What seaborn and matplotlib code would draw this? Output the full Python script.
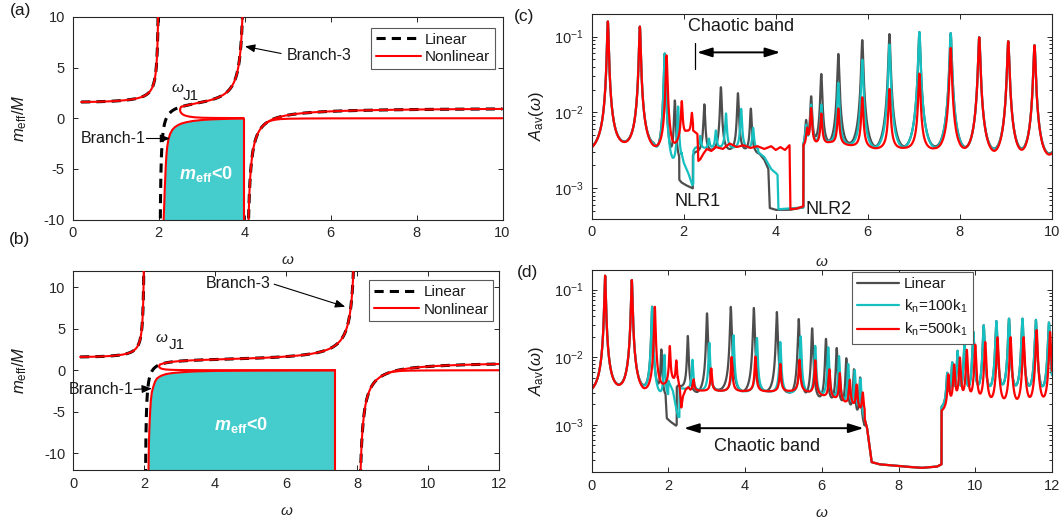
import numpy as np
import pandas as pd
import matplotlib
matplotlib.use("Agg")
import matplotlib.pyplot as plt
from matplotlib.lines import Line2D
from matplotlib.ticker import LogLocator, NullFormatter, MultipleLocator
import seaborn as sns

# ------------------------------------------------------------------
# Effective mass of the mass-in-mass lattice, panels (a) and (b)
# ------------------------------------------------------------------
res_freq_a = [2.02, 4.03]          # internal resonances
mass_ratio_a = [0.25, 0.35]        # m_i / M
res_freq_b = [2.02, 8.00]
mass_ratio_b = [0.30, 0.30]

jump_a, jump_b = 2.53, 2.45        # omega_J1 (start of Branch-3)
edge_a, edge_b = 3.98, 7.37        # right edge of the m_eff<0 band

# nonlinear Branch-1 (negative effective mass)
br1_w_a = [2.120, 2.135, 2.145, 2.156, 2.170, 2.185, 2.200, 2.230, 2.270, 2.320,
           2.380, 2.460, 2.550, 2.650, 2.800, 3.040, 3.300, 3.600, 3.980]
br1_m_a = [-10.0, -8.3, -7.0, -6.0, -4.6, -3.6, -2.9, -2.1, -1.55, -1.15,
           -0.88, -0.66, -0.50, -0.39, -0.27, -0.16, -0.10, -0.06, -0.03]
br1_w_b = [2.125, 2.135, 2.150, 2.170, 2.190, 2.220, 2.270, 2.310, 2.360, 2.430,
           2.500, 2.620, 2.790, 3.050, 3.450, 4.000, 5.000, 6.200, 7.370]
br1_m_b = [-12.0, -9.0, -6.9, -5.0, -3.66, -2.6, -1.84, -1.35, -1.0, -0.78,
           -0.63, -0.46, -0.34, -0.24, -0.14, -0.08, -0.04, -0.02, -0.01]

# fold of the nonlinear curve at omega_J1
fold_w_a = [2.530, 2.512, 2.503, 2.502, 2.510, 2.530, 2.570, 2.630, 2.720, 2.850,
            3.020, 3.300, 3.700, 3.980]
fold_m_a = [1.14, 1.02, 0.90, 0.78, 0.64, 0.50, 0.36, 0.25, 0.16, 0.09,
            0.05, 0.03, 0.02, 0.02]
fold_w_b = [2.450, 2.432, 2.424, 2.425, 2.435, 2.460, 2.500, 2.560, 2.650, 2.780,
            2.950, 3.200, 3.600, 4.500, 7.370]
fold_m_b = [0.69, 0.62, 0.52, 0.42, 0.33, 0.25, 0.18, 0.12, 0.08, 0.05,
            0.03, 0.02, 0.01, 0.005, 0.0]

# nonlinear branch above the second resonance that settles at zero
tail_w_a = [4.45, 4.50, 4.56, 4.63, 4.72, 4.85, 5.05, 5.40, 6.00, 8.00, 10.0]
tail_m_a = [-0.66, -0.47, -0.33, -0.22, -0.14, -0.08, -0.045, -0.025, -0.012, -0.004, 0.0]
tail_w_b = [8.85, 8.92, 9.00, 9.10, 9.25, 9.45, 9.80, 10.4, 11.2, 12.0]
tail_m_b = [-0.36, -0.27, -0.19, -0.13, -0.08, -0.05, -0.03, -0.015, -0.006, 0.0]

# ------------------------------------------------------------------
# Averaged amplitude spectra, panels (c) and (d)
# ------------------------------------------------------------------
# (c) resonance peaks: position, peak amplitude
c_lin_w = [0.355, 1.05, 1.59, 1.81, 2.45, 2.81, 3.18, 3.46, 4.66, 4.77, 4.99, 5.36,
           5.88, 6.47, 7.12, 7.80, 8.42, 9.05, 9.62, 10.25]
c_lin_h = [0.158, 0.135, 0.059, 0.013, 0.0122, 0.021, 0.0174, 0.0107, 0.0065, 0.015,
           0.031, 0.058, 0.089, 0.107, 0.114, 0.110, 0.097, 0.086, 0.076, 0.070]
c_k100_w = [0.355, 1.05, 1.59, 1.88, 2.36, 2.55, 2.70, 2.92, 3.25, 3.51, 4.66, 4.77,
            4.99, 5.36, 5.88, 6.47, 7.12, 7.80, 8.42, 9.05, 9.62, 10.25]
c_k100_h = [0.158, 0.135, 0.059, 0.011, 0.0044, 0.0040, 0.0053, 0.0093, 0.0108, 0.0059,
            0.006, 0.012, 0.012, 0.024, 0.049, 0.078, 0.114, 0.110, 0.097, 0.086, 0.076, 0.070]
c_k500_w = [0.355, 1.05, 1.63, 1.96, 2.18, 4.68, 4.77, 4.99, 5.36, 5.88, 6.47, 7.12,
            7.80, 8.42, 9.05, 9.62, 10.25]
c_k500_h = [0.158, 0.135, 0.056, 0.0133, 0.0093, 0.0055, 0.011, 0.0093, 0.011, 0.0155,
            0.020, 0.032, 0.070, 0.097, 0.086, 0.076, 0.070]
# (c) background level under the peaks
c_lin_floor_w = [0, 0.7, 1.35, 1.7, 1.85, 2.25, 3.7, 4.7, 5.18, 5.6, 6.17, 6.8, 7.45,
                 8.1, 8.75, 9.35, 9.95, 10]
c_lin_floor_v = [2.2e-3, 2.0e-3, 1.7e-3, 2e-4, 8e-4, 2.2e-3, 2.2e-3, 2.2e-3, 1.6e-3,
                 1.4e-3, 7.5e-4, 7.5e-4, 8e-4, 5e-4, 6e-4, 5.5e-4, 7e-4, 7e-4]
c_k100_floor_w = [0, 0.7, 1.35, 1.7, 1.85, 2.25, 3.6, 4.7, 5.18, 5.6, 6.17, 6.8, 7.45,
                  8.1, 8.75, 9.35, 9.95, 10]
c_k100_floor_v = [2.2e-3, 2.0e-3, 1.7e-3, 2e-4, 8e-4, 2.8e-3, 2.8e-3, 2.8e-3, 3.0e-3,
                  2.45e-3, 1.6e-3, 1.1e-3, 8e-4, 5e-4, 6e-4, 5.5e-4, 7e-4, 7e-4]
c_k500_floor_w = [0, 0.7, 1.35, 1.75, 1.9, 2.07, 2.2, 4.7, 5.18, 5.6, 6.17, 6.8, 7.45,
                  8.1, 8.75, 9.35, 9.95, 10]
c_k500_floor_v = [2.2e-3, 2.0e-3, 1.7e-3, 1.75e-3, 3.0e-3, 4.6e-3, 4.6e-3, 3.0e-3,
                  3.5e-3, 3.2e-3, 2.75e-3, 2.6e-3, 2.05e-3, 1.15e-3, 6e-4, 5.5e-4, 7e-4, 7e-4]
# (c) stretches of the response traced directly (drops NLR1/NLR2, chaotic band)
c_lin_cut = [([1.905, 1.95, 2.05, 2.20], [1.3e-3, 1.2e-3, 1.1e-3, 1.0e-3]),
             ([3.62, 3.75, 3.84, 3.87, 4.0, 4.3, 4.6],
              [3.0e-3, 2.4e-3, 1.8e-3, 5.5e-4, 5.2e-4, 5.2e-4, 5.6e-4])]
c_k100_cut = [([1.95, 2.0, 2.1, 2.19, 2.21], [3.0e-3, 2.2e-3, 1.6e-3, 1.1e-3, 1.15e-3]),
              ([3.62, 3.75, 3.9, 4.0, 4.04, 4.06, 4.6],
               [3.0e-3, 2.6e-3, 1.8e-3, 1.6e-3, 1.5e-3, 5.3e-4, 5.6e-4])]
c_k500_cut = [([2.205, 2.25, 2.30, 2.32, 2.36, 2.42, 2.5, 2.6, 2.7, 2.85, 3.0, 3.15,
                3.3, 3.45, 3.6, 3.75, 3.9, 4.0, 4.1, 4.2, 4.30, 4.32, 4.45, 4.60],
               [5.8e-3, 5.5e-3, 5.2e-3, 2.3e-3, 2.4e-3, 2.8e-3, 3.3e-3, 3.1e-3, 3.5e-3,
                3.3e-3, 3.9e-3, 3.5e-3, 3.7e-3, 3.4e-3, 3.6e-3, 3.3e-3, 3.6e-3, 3.2e-3,
                3.5e-3, 3.2e-3, 3.7e-3, 5.3e-4, 5.4e-4, 5.8e-4])]

# (d) resonance peaks
d_right_w = [9.27, 9.40, 9.54, 9.72, 9.95, 10.22, 10.55, 10.88, 11.23, 11.58, 11.92, 12.25]
d_lin_w = [0.355, 1.05, 1.58, 1.82, 2.51, 3.01, 3.63, 4.23, 4.83, 5.40, 5.75, 6.11,
           6.39, 6.64, 6.84, 7.00] + d_right_w
d_lin_h = [0.16, 0.138, 0.055, 0.0118, 0.020, 0.044, 0.055, 0.053, 0.046, 0.036, 0.026,
           0.018, 0.013, 0.009, 0.006, 0.0045,
           0.005, 0.0072, 0.0112, 0.015, 0.0225, 0.0285, 0.033, 0.036, 0.036, 0.0345,
           0.0315, 0.03]
d_k100_w = [0.355, 1.05, 1.58, 1.90, 2.63, 3.07, 3.70, 4.31, 4.92, 5.45, 5.83, 6.17,
            6.45, 6.69, 6.86, 7.01] + d_right_w
d_k100_h = [0.16, 0.138, 0.055, 0.010, 0.0088, 0.016, 0.0208, 0.019, 0.0165, 0.020,
            0.0143, 0.0136, 0.0099, 0.0074, 0.0059, 0.0044,
            0.005, 0.0072, 0.0112, 0.015, 0.0225, 0.0285, 0.033, 0.036, 0.036, 0.0345,
            0.0315, 0.03]
d_k500_w = [0.355, 1.05, 1.65, 2.04, 2.21, 2.66, 3.12, 3.65, 4.27, 4.92, 5.42, 5.83,
            6.20, 6.47, 6.73, 6.91, 7.07,
            9.30, 9.45, 9.60, 9.78, 10.0, 10.26, 10.58, 10.92, 11.26, 11.60, 11.95, 12.3]
d_k500_h = [0.16, 0.138, 0.055, 0.0139, 0.0083, 0.0044, 0.0066, 0.0099, 0.0101, 0.0078,
            0.009, 0.0088, 0.0064, 0.0056, 0.0044, 0.0037, 0.0028,
            0.005, 0.007, 0.009, 0.012, 0.0145, 0.016, 0.019, 0.019, 0.019, 0.0245,
            0.023, 0.02]
# (d) background level under the peaks
d_lin_floor_w = [0, 0.7, 1.35, 1.72, 1.9, 2.25, 2.76, 3.32, 3.93, 4.53, 5.12, 5.58,
                 5.93, 6.25, 6.52, 6.74, 6.92, 7.1, 9.1, 9.47, 9.83, 10.38, 11.05, 12]
d_lin_floor_v = [2.1e-3, 1.8e-3, 1.6e-3, 1.4e-3, 1.4e-3, 3.0e-3, 1.9e-3, 2.1e-3, 1.75e-3,
                 1.85e-3, 1.75e-3, 1.1e-3, 1.15e-3, 1.0e-3, 9.5e-4, 7e-4, 4e-4, 4e-4,
                 1.2e-3, 1.0e-3, 9e-4, 1.0e-3, 9e-4, 9e-4]
d_k100_floor_w = [0, 0.7, 1.35, 1.72, 1.95, 2.3, 2.9, 3.4, 4.0, 4.6, 5.2, 5.63, 6.0,
                  6.3, 6.55, 6.8, 7.0, 7.1, 9.1, 9.47, 9.83, 10.38, 11.05, 12]
d_k100_floor_v = [2.1e-3, 1.8e-3, 1.6e-3, 1.4e-3, 1.6e-3, 3.0e-3, 2.7e-3, 2.7e-3, 2.6e-3,
                  2.6e-3, 2.4e-3, 2.2e-3, 2.0e-3, 1.7e-3, 1.4e-3, 9e-4, 7e-4, 7e-4,
                  1.2e-3, 1.0e-3, 9e-4, 1.0e-3, 9e-4, 9e-4]
d_k500_floor_w = [0, 0.7, 1.35, 1.8, 2.1, 2.6, 5.5, 6.0, 6.35, 6.6, 6.8, 7.0, 7.1, 9.1,
                  9.5, 10.4, 11.1, 12]
d_k500_floor_v = [2.1e-3, 1.8e-3, 1.6e-3, 2.4e-3, 3.5e-3, 2.9e-3, 2.9e-3, 2.4e-3, 2.1e-3,
                  1.8e-3, 1.6e-3, 1.3e-3, 1.2e-3, 1.2e-3, 1.2e-3, 9.5e-4, 7.5e-4, 7.5e-4]
d_gap = ([7.12, 7.18, 7.24, 7.30, 7.5, 8.0, 8.6, 9.0, 9.12],
         [1.2e-3, 9e-4, 5e-4, 2.8e-4, 2.6e-4, 2.45e-4, 2.3e-4, 2.4e-4, 2.6e-4])
d_lin_cut = [([1.93, 1.96, 2.05, 2.20, 2.22], [2.8e-3, 1.25e-3, 1.12e-3, 0.97e-3, 1.0e-3]),
             d_gap]
d_k100_cut = [([2.00, 2.12, 2.20, 2.26, 2.29], [4.5e-3, 3.2e-3, 1.8e-3, 1.3e-3, 1.3e-3]),
              d_gap]
d_k500_cut = [([2.25, 2.30, 2.34, 2.38, 2.45, 2.52, 2.58],
               [5.0e-3, 3.5e-3, 1.8e-3, 2.6e-3, 3.3e-3, 3.6e-3, 3.3e-3]), d_gap]

case_names = ["Linear", r"k$_\mathregular{n}$=100k$_\mathregular{1}$",
              r"k$_\mathregular{n}$=500k$_\mathregular{1}$"]
case_colors = ["#4d4d4d", "#16bfc0", "#ff0000"]


def m_eff(w, freqs, ratios):
    w = np.asarray(w, dtype=float)
    out = np.ones_like(w)
    for f, r in zip(freqs, ratios):
        out += r * f ** 2 / (f ** 2 - w ** 2)
    return out


def spectrum(w, pk_w, pk_h, fl_w, fl_v, cuts):
    log_fl = np.log10(fl_v)
    y = 10 ** np.interp(w, fl_w, log_fl)
    for p, h in zip(pk_w, pk_h):
        g = 0.015 + 0.0005 * p                       # resonance half-width
        amp = max(h - 10 ** np.interp(p, fl_w, log_fl), 0.0)
        y = y + amp * (1.0 + ((w - p) / g) ** 2) ** -0.8
    for cw, cv in cuts:
        m = (w >= cw[0]) & (w <= cw[-1])
        y[m] = 10 ** np.interp(w[m], cw, np.log10(cv))
    return y


# ------------------------------------------------------------------
sns.set_theme(style="ticks")
plt.rcParams.update({
    "font.family": ["Liberation Sans", "DejaVu Sans"],
    "mathtext.fontset": "custom",
    "mathtext.rm": "Liberation Sans",
    "mathtext.it": "Liberation Sans:italic",
    "mathtext.bf": "Liberation Sans:bold",
    "mathtext.bfit": "Liberation Sans:italic:bold",
    "mathtext.sf": "Liberation Sans",
    "axes.unicode_minus": False,
    "axes.edgecolor": "#262626",
    "axes.linewidth": 0.8,
    "text.color": "#1a1a1a",
})

W, H = 1064, 523
fig = plt.figure(figsize=(W / 100, H / 100), dpi=100)
fig.patch.set_facecolor("white")


def axes_px(l, r, t, b):
    return fig.add_axes([l / W, 1 - b / H, (r - l) / W, (b - t) / H])


axA = axes_px(72.5, 502.5, 17.0, 219.5)
axB = axes_px(73.0, 499.5, 270.5, 470.0)
axC = axes_px(591.5, 1052.0, 14.3, 218.5)
axD = axes_px(591.5, 1052.0, 270.0, 472.0)


def style(ax, ylab, ylab_x, xlab_y):
    ax.set_facecolor("white")
    for s in ax.spines.values():
        s.set_visible(True)
        s.set_linewidth(0.8)
        s.set_color("#262626")
    ax.tick_params(which="both", direction="in", top=True, right=True,
                   labelsize=10.5, width=0.7, colors="#262626")
    ax.tick_params(which="major", length=3.5)
    ax.tick_params(which="minor", length=2.0)
    ax.tick_params(axis="x", pad=5)
    ax.tick_params(axis="y", pad=5.5)
    ax.set_xlabel(r"$\omega$", fontsize=11, color="#262626")
    ax.xaxis.label.set_va("center")
    ax.xaxis.set_label_coords(0.5, xlab_y)
    ax.set_ylabel(ylab, fontsize=12, color="#1a1a1a")
    ax.yaxis.label.set_va("center")
    ax.yaxis.set_label_coords(ylab_x, 0.5)


# ---------------- panels (a) and (b) ----------------
def meff_panel(ax, freqs, ratios, xmax, ylim, jump, edge, br_w, br_m, fd_w, fd_m,
               tl_w, tl_m):
    f1, f2 = freqs
    eps = 0.0015
    ax.fill_between(br_w, br_m, ylim, color="#45cccc", lw=0, zorder=1)
    lin_segments = [np.linspace(0.2, f1 - eps, 1500),
                    np.linspace(f1 + eps, f2 - eps, 3000),
                    np.linspace(f2 + eps, xmax, 3000)]
    for seg in lin_segments:
        sns.lineplot(x=seg, y=m_eff(seg, freqs, ratios), ax=ax, color="black", lw=2.2,
                     ls=(0, (3, 2)), estimator=None, sort=False, zorder=2)
    red_segments = [np.linspace(0.2, f1 - eps, 1500),
                    np.linspace(jump, f2 - eps, 3000),
                    np.linspace(f2 + eps, xmax, 3000)]
    for seg in red_segments:
        sns.lineplot(x=seg, y=m_eff(seg, freqs, ratios), ax=ax, color="red", lw=1.5,
                     estimator=None, sort=False, zorder=3)
    for xs, ys in [(br_w, br_m), (fd_w, fd_m), (tl_w, tl_m),
                   ([edge, edge], [br_m[-1], ylim])]:
        sns.lineplot(x=xs, y=ys, ax=ax, color="red", lw=1.5, estimator=None,
                     sort=False, zorder=3)
    ax.set_xlim(0, xmax)
    ax.set_ylim(ylim, -ylim)
    ax.xaxis.set_major_locator(MultipleLocator(2))
    ax.yaxis.set_major_locator(MultipleLocator(5))
    leg_handles = [Line2D([], [], color="black", lw=2.2, ls=(0, (3, 2))),
                   Line2D([], [], color="red", lw=1.5)]
    return leg_handles


hA = meff_panel(axA, res_freq_a, mass_ratio_a, 10, -10, jump_a, edge_a,
                br1_w_a, br1_m_a, fold_w_a, fold_m_a, tail_w_a, tail_m_a)
hB = meff_panel(axB, res_freq_b, mass_ratio_b, 12, -12, jump_b, edge_b,
                br1_w_b, br1_m_b, fold_w_b, fold_m_b, tail_w_b, tail_m_b)

ylab_m = r"$m_\mathregular{eff}/M$"
style(axA, ylab_m, (20 - 72.5) / 430.0, (219.5 - 260) / 202.5)
style(axB, ylab_m, (20 - 73.0) / 426.5, (470 - 511) / 199.5)

for ax, h, anchor in [(axA, hA, (0.9826, 0.9457)), (axB, hB, (0.985, 0.951))]:
    leg = ax.legend(h, ["Linear", "Nonlinear"], loc="upper right",
                    bbox_to_anchor=anchor, borderaxespad=0, fontsize=11,
                    frameon=True, fancybox=False, edgecolor="#5a5a5a",
                    framealpha=1, handlelength=3.0, handletextpad=0.25,
                    borderpad=0.3, labelspacing=0.25)
    leg.get_frame().set_linewidth(0.8)

arrow_kw = dict(arrowstyle="-|>,head_length=0.5,head_width=0.2", lw=0.8,
                color="black", shrinkA=0, shrinkB=0, mutation_scale=12)
neg_label = r"$\mathbfit{m}_\mathbf{eff}$<0"

# annotations in (a)
axA.text(1.69, -2.0, "Branch-1", ha="right", va="center", fontsize=11.5)
axA.annotate("", xy=(2.27, -2.0), xytext=(1.72, -2.0), arrowprops=arrow_kw)
axA.text(4.98, 6.2, "Branch-3", ha="left", va="center", fontsize=11.5)
axA.annotate("", xy=(4.01, 7.1), xytext=(4.85, 6.4), arrowprops=arrow_kw)
axA.text(2.28, 2.95, r"$\omega$", ha="left", va="center", fontsize=11)
axA.text(2.57, 2.2, "J1", ha="left", va="center", fontsize=11)
axA.text(3.1, -5.5, neg_label, ha="center", va="center", fontsize=13,
         color="white", fontweight="bold", zorder=4)

# annotations in (b)
axB.text(1.70, -2.3, "Branch-1", ha="right", va="center", fontsize=11.5)
axB.annotate("", xy=(2.22, -2.2), xytext=(1.72, -2.3), arrowprops=arrow_kw)
axB.text(3.74, 10.4, "Branch-3", ha="left", va="center", fontsize=11.5)
axB.annotate("", xy=(7.66, 7.64), xytext=(5.66, 10.35), arrowprops=arrow_kw)
axB.text(2.32, 3.85, r"$\omega$", ha="left", va="center", fontsize=11)
axB.text(2.68, 3.05, "J1", ha="left", va="center", fontsize=11)
axB.text(4.74, -6.6, neg_label, ha="center", va="center", fontsize=13,
         color="white", fontweight="bold", zorder=4)

# ---------------- panels (c) and (d) ----------------
wc = np.round(np.linspace(0, 10, 10001), 4)
wd = np.round(np.linspace(0, 12, 12001), 4)

spec_c = [spectrum(wc, c_lin_w, c_lin_h, c_lin_floor_w, c_lin_floor_v, c_lin_cut),
          spectrum(wc, c_k100_w, c_k100_h, c_k100_floor_w, c_k100_floor_v, c_k100_cut),
          spectrum(wc, c_k500_w, c_k500_h, c_k500_floor_w, c_k500_floor_v, c_k500_cut)]
spec_d = [spectrum(wd, d_lin_w, d_lin_h, d_lin_floor_w, d_lin_floor_v, d_lin_cut),
          spectrum(wd, d_k100_w, d_k100_h, d_k100_floor_w, d_k100_floor_v, d_k100_cut),
          spectrum(wd, d_k500_w, d_k500_h, d_k500_floor_w, d_k500_floor_v, d_k500_cut)]

for ax, w, specs, xmax, ylo, yhi in [(axC, wc, spec_c, 10, 4.0e-4, 0.197),
                                     (axD, wd, spec_d, 12, 2.0e-4, 0.195)]:
    df = pd.DataFrame({
        "omega": np.tile(w, 3),
        "A": np.concatenate(specs),
        "case": np.repeat(case_names, len(w)),
    })
    sns.lineplot(data=df, x="omega", y="A", hue="case", hue_order=case_names,
                 palette=case_colors, estimator=None, sort=False, lw=1.6,
                 legend=False, ax=ax)
    ax.set_yscale("log")
    ax.set_xlim(0, xmax)
    ax.set_ylim(ylo, yhi)
    ax.xaxis.set_major_locator(MultipleLocator(2))
    ax.yaxis.set_major_locator(LogLocator(base=10, numticks=10))
    ax.yaxis.set_minor_locator(LogLocator(base=10, subs=np.arange(2, 10), numticks=20))
    ax.yaxis.set_minor_formatter(NullFormatter())

ylab_a = r"$A_\mathregular{av}(\omega)$"
style(axC, ylab_a, (536 - 591.5) / 460.5, (218.5 - 262) / 204.2)
style(axD, ylab_a, (536 - 591.5) / 460.5, (472 - 513) / 202.0)

dbl_kw = dict(arrowstyle="<|-|>,head_length=0.9,head_width=0.28", lw=1.4,
              color="black", shrinkA=0, shrinkB=0, mutation_scale=10)
axC.text(3.25, 0.135, "Chaotic band", ha="center", va="center", fontsize=13)
axC.plot([2.24, 2.24], [0.038, 0.082], color="black", lw=0.9)
axC.annotate("", xy=(4.10, 0.062), xytext=(2.29, 0.062), arrowprops=dbl_kw)
axC.text(2.31, 6.7e-4, "NLR1", ha="center", va="center", fontsize=13)
axC.text(5.14, 5.2e-4, "NLR2", ha="center", va="center", fontsize=13)

axD.annotate("", xy=(7.09, 8.9e-4), xytext=(2.41, 8.9e-4), arrowprops=dbl_kw)
axD.text(4.57, 4.8e-4, "Chaotic band", ha="center", va="center", fontsize=13)

legD = axD.legend([Line2D([], [], color=c, lw=1.6) for c in case_colors], case_names,
                  loc="upper left", bbox_to_anchor=(0.565, 0.99), borderaxespad=0,
                  fontsize=11, frameon=True, fancybox=False, edgecolor="#5a5a5a",
                  framealpha=1, handlelength=2.75, handletextpad=0.33,
                  borderpad=0.35, labelspacing=0.4)
legD.get_frame().set_linewidth(0.8)

# panel letters
for txt, x, y in [("(a)", 21, 11), ("(b)", 20, 240), ("(c)", 524, 17), ("(d)", 527, 272)]:
    fig.text(x / W, 1 - y / H, txt, ha="center", va="center", fontsize=12.5,
             color="#1a1a1a")

fig.savefig("out.png", dpi=100, facecolor="white")
